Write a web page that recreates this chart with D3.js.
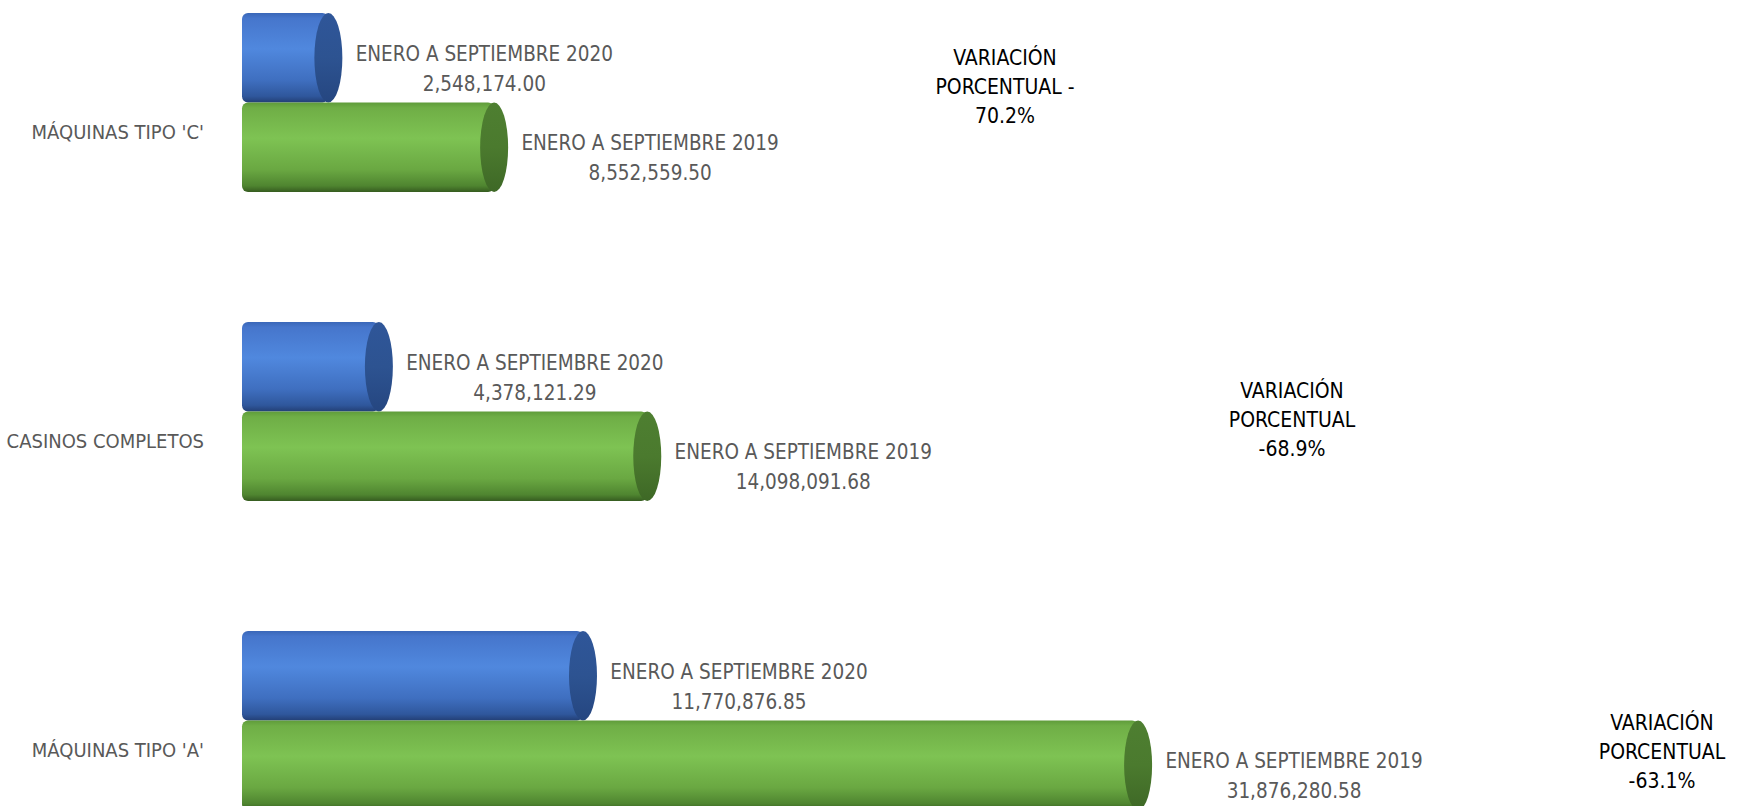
<!DOCTYPE html>
<html>
<head>
<meta charset="utf-8">
<script src="https://cdn.jsdelivr.net/npm/d3@7"></script>
<style>
  html, body { margin: 0; padding: 0; background: #fff; }
  svg text { font-family: "Liberation Sans Narrow", "DejaVu Sans Condensed", "Roboto", sans-serif; }
</style>
</head>
<body>
<div id="chart"></div>
<script>
// categories, top to bottom as drawn
const categories = ["MÁQUINAS TIPO 'C'", "CASINOS COMPLETOS", "MÁQUINAS TIPO 'A'"];
const seriesNames = ["ENERO A SEPTIEMBRE 2020", "ENERO A SEPTIEMBRE 2019"];
const values2020 = [2548174.00, 4378121.29, 11770876.85];
const values2019 = [8552559.50, 14098091.68, 31876280.58];
const noteLines = [
    ["VARIACIÓN", "PORCENTUAL -", "{p}"],
    ["VARIACIÓN", "PORCENTUAL", "-{p}"],
    ["VARIACIÓN", "PORCENTUAL", "-{p}"]
];

const width = 1746, height = 806;
const capRx = 14;

const svg = d3.select('#chart').append('svg')
    .attr('width', width)
    .attr('height', height);

const defs = svg.append('defs');

// cylinder shading
function gradient(id, stops) {
    const g = defs.append('linearGradient')
        .attr('id', id)
        .attr('x1', 0).attr('y1', 0).attr('x2', 0).attr('y2', 1);
    stops.forEach(s => g.append('stop').attr('offset', s[0]).attr('stop-color', s[1]));
}
gradient('body2020', [[0, '#3a67b8'], [0.06, '#4676cc'], [0.4, '#5088de'], [0.75, '#3f6fc0'], [0.93, '#2f579c'], [1, '#233f75']]);
gradient('body2019', [[0, '#5f9c3a'], [0.06, '#6fae46'], [0.4, '#7ec353'], [0.75, '#6aa842'], [0.93, '#4f8530'], [1, '#365c20']]);
gradient('cap2020', [[0, '#2f5699'], [0.5, '#2d5391'], [1, '#254680']]);
gradient('cap2019', [[0, '#4e7f31'], [0.5, '#4b7a2e'], [1, '#3e6826']]);

const x = d3.scaleLinear()
    .domain([0, 32000000])
    .range([258, 258 + 27.61 * 32]);

const y = d3.scaleBand()
    .domain(categories)
    .range([13, 810])
    .paddingInner(0.4207)
    .paddingOuter(0);

const ySub = d3.scaleBand()
    .domain(seriesNames)
    .range([0, y.bandwidth()]);

const rows = categories.map((c, i) => ({
    cat: c,
    bars: [
        {key: '2020', name: seriesNames[0], value: values2020[i]},
        {key: '2019', name: seriesNames[1], value: values2019[i]}
    ],
    change: values2020[i] / values2019[i] - 1
}));

const fmt = d3.format(',.2f');
const pct = d3.format('.1%');

const groups = svg.selectAll('.cat')
    .data(rows)
    .enter()
    .append('g')
    .attr('class', 'cat')
    .attr('transform', d => `translate(0,${y(d.cat)})`);

// category labels
groups.append('text')
    .attr('x', 204)
    .attr('y', ySub(seriesNames[1]) + ySub.bandwidth() / 2 - 15)
    .attr('text-anchor', 'end')
    .attr('dominant-baseline', 'central')
    .attr('fill', '#595959')
    .style('font-size', '20px')
    .text(d => d.cat);

const bars = groups.selectAll('.bar')
    .data(d => d.bars)
    .enter()
    .append('g')
    .attr('class', 'bar')
    .attr('transform', d => `translate(0,${ySub(d.name)})`);

const bh = ySub.bandwidth();

// body of the cylinder
bars.append('rect')
    .attr('x', x(0) - 16)
    .attr('y', 0)
    .attr('width', d => x(d.value) - x(0) + 16)
    .attr('height', bh)
    .attr('rx', 6)
    .attr('fill', d => `url(#body${d.key})`);

// end cap
bars.append('ellipse')
    .attr('cx', d => x(d.value))
    .attr('cy', bh / 2)
    .attr('rx', capRx)
    .attr('ry', bh / 2)
    .attr('fill', d => `url(#cap${d.key})`);

// data labels
const lab = bars.append('text')
    .attr('text-anchor', 'middle')
    .attr('fill', '#595959')
    .style('font-size', '20.5px');

lab.append('tspan')
    .attr('x', d => x(d.value) + capRx + 142)
    .attr('y', bh / 2 - 4)
    .attr('dominant-baseline', 'central')
    .text(d => d.name);

lab.append('tspan')
    .attr('x', d => x(d.value) + capRx + 142)
    .attr('y', bh / 2 + 26)
    .attr('dominant-baseline', 'central')
    .text(d => fmt(d.value));

// variation notes (free text boxes)
const notePos = [[1005, 58], [1292, 391], [1662, 723]];
rows.forEach((r, i) => {
    const t = svg.append('text')
        .attr('text-anchor', 'middle')
        .attr('fill', '#000')
        .style('font-size', '21px');
    const p = pct(Math.abs(r.change));
    noteLines[i].forEach((ln, j) => {
        t.append('tspan')
            .attr('x', notePos[i][0])
            .attr('y', notePos[i][1] + j * 29)
            .attr('dominant-baseline', 'central')
            .text(ln.replace('{p}', p));
    });
});
</script>
</body>
</html>
